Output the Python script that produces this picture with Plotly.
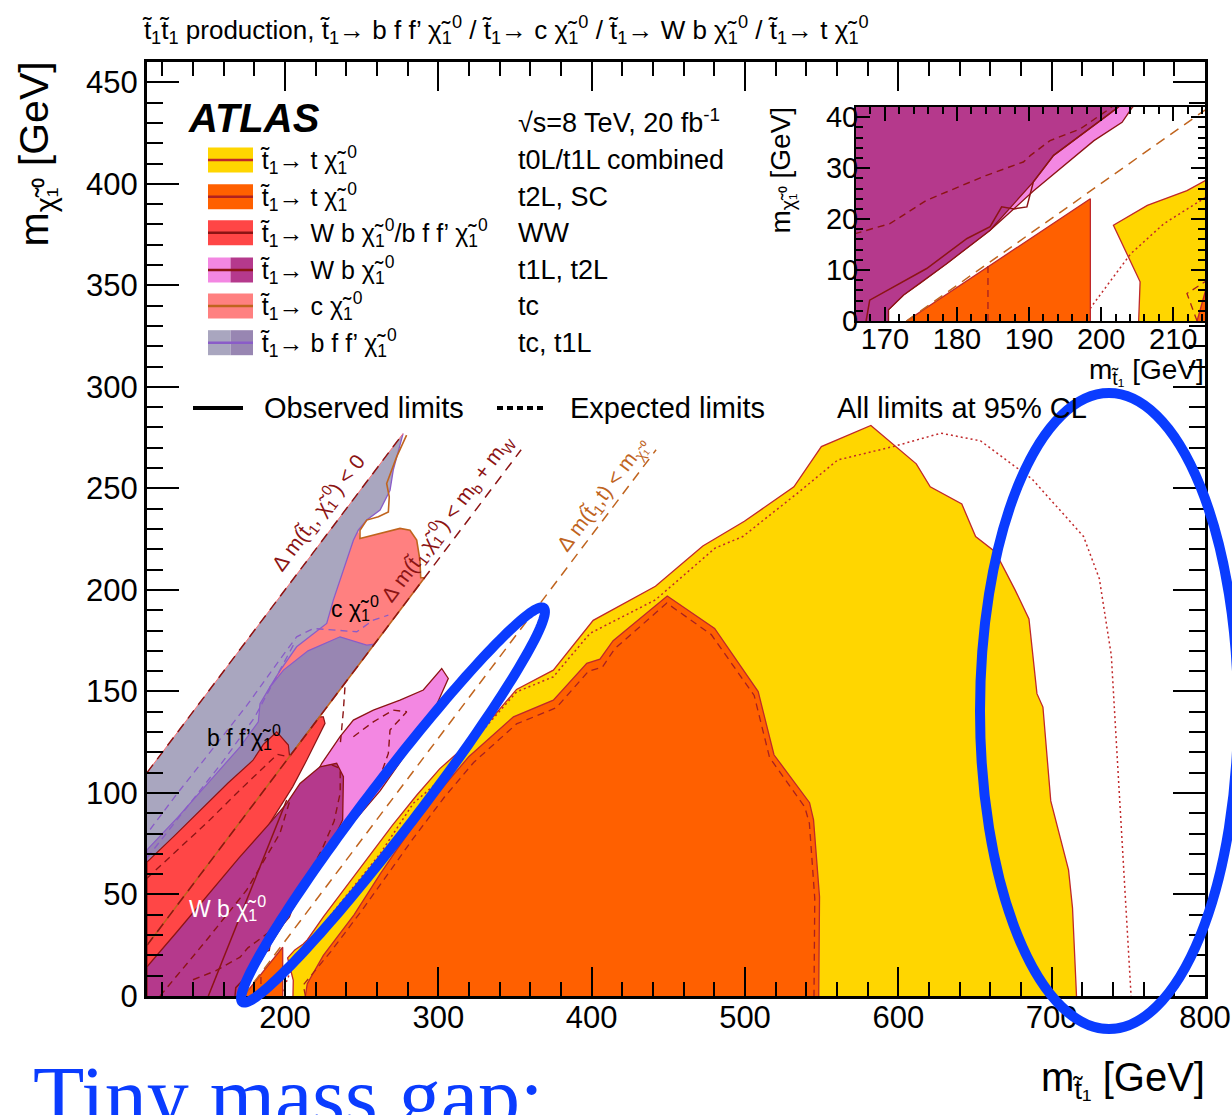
import math
import plotly.graph_objects as go

SANS = "Liberation Sans, Arial, Helvetica, sans-serif"
SERIF = "Liberation Serif, Times New Roman, serif"

# ---------------- axes ----------------
x_range = [110, 800]
y_range = [0, 460]
inset_x_range = [166, 214.4]
inset_y_range = [0, 42]
x_ticks = [200, 300, 400, 500, 600, 700, 800]
y_ticks = [0, 50, 100, 150, 200, 250, 300, 350, 400, 450]
inset_x_ticks = [170, 180, 190, 200, 210]
inset_y_ticks = [0, 10, 20, 30, 40]

# ---------------- kinematic boundaries (GeV) ----------------
dm0_x = [110, 277]          # m(stop) = m(LSP)
dm0_y = [110, 277]
dmbw_x = [110, 354]         # dm = m_b + m_W
dmbw_y = [25, 269]
dmt_x = [173, 442]          # dm = m_t
dmt_y = [0, 269]

# ---------------- tc / t1L, stop -> b f f' chi ----------------
tc_bff_x = [110, 110, 277, 273.9, 270.6, 268.5, 262, 253.3, 247.8, 244.6, 238, 231.5, 227.2, 207.6, 197, 190, 195]
tc_bff_y = [25, 110, 277, 268, 259, 249.1, 239.3, 234.4, 229.4, 224.5, 209.8, 195, 183.5, 172, 160.5, 152, 110]
t1L_bff_x = [110, 110, 130, 150, 170.7, 182.6, 183.7, 190, 199, 215, 235.9, 253.3, 258.3]
t1L_bff_y = [25, 72, 88, 105, 122.7, 135, 144, 152, 160.5, 170, 176.9, 172.8, 173.3]
bff_exp1_x = [112, 130, 150, 175, 195, 207.6, 218.5, 246.8, 257.6, 267.4]
bff_exp1_y = [82, 100, 119, 143, 164, 176.9, 181, 179.4, 185.1, 187.6]
bff_exp2_x = [110, 135, 160, 180, 195, 207]
bff_exp2_y = [68, 92, 116, 137, 158, 175]

# ---------------- tc, stop -> c chi ----------------
tc_c_x = [248.9, 262, 275, 281.5, 285.9, 288, 288.5, 291, 240, 190, 197, 207.6, 227.2, 231.5, 238, 244.6, 247.8]
tc_c_y = [225.3, 227.8, 230.3, 229.4, 224.5, 214.7, 206, 206, 155, 152, 160.5, 172, 183.5, 195, 209.8, 224.5, 229.4]
tc_c_edge_x = [279.3, 272.8, 266.3, 268, 267.4, 260.9, 253.3, 248.9, 248.9, 262, 275, 281.5, 285.9, 288, 288.5, 291, 110]
tc_c_edge_y = [276.2, 265.5, 252.4, 245.8, 238.4, 236, 234.4, 229.4, 225.3, 227.8, 230.3, 229.4, 224.5, 214.7, 206, 206, 25]

# ---------------- WW ----------------
ww_x = [110, 110, 128, 147, 163, 179, 186, 194.6, 202.2, 203, 222.5, 225, 226.1, 214.2, 205, 190, 175, 160, 145, 130]
ww_y = [0, 66, 79, 93, 105, 116, 124, 130.1, 123.6, 118, 137.5, 137.5, 134.3, 116.2, 103, 85, 65, 45, 25, 0]
ww_exp_x = [110, 130, 150, 170, 185, 195, 201]
ww_exp_y = [58, 72, 86, 101, 112, 119, 118]

# ---------------- t1L, t2L, stop -> W b chi ----------------
wb_light_x = [170.5, 170.5, 172.6, 174.9, 178.6, 184.6, 190.6, 199, 202.9, 204.3, 215, 229, 245, 262, 275, 288, 298, 306.5,
              302.2, 290.2, 275, 257.6, 244.6, 235.9, 224, 200, 175, 165]
wb_light_y = [0, 2.2, 5.1, 7.4, 11.3, 17.8, 25.5, 35.4, 39, 41.9, 55, 71, 86, 101, 115, 130, 142, 156.4,
              161.3, 150.7, 145.7, 140.8, 135.9, 127.7, 114.6, 80, 30, 0]
wb_dark_x = [110, 110, 130, 150, 170, 190, 201.1, 209.8, 222.8, 233.7, 238.1, 237.6, 229.3, 218.5, 210, 202.4, 200.8,
             193.4, 190.6, 184.6, 178.6, 174.9, 172.6, 170.5, 170.5]
wb_dark_y = [0, 14.4, 32, 50, 68, 85, 94.9, 104.7, 112.9, 114.6, 108, 86.7, 73.5, 58.7, 49, 42, 40.3,
             32.5, 27.3, 17.8, 11.3, 7.4, 5.1, 2.2, 0]
wb_obs2_x = [167.4, 167.9, 175.8, 181.4, 184.6, 186.2, 187.9, 189.7, 190.6, 193.4, 200.8, 202.4]
wb_obs2_y = [0, 4.1, 10.3, 16.2, 18.5, 22.4, 22.0, 22.4, 27.3, 32.5, 40.3, 42]
wb_sol_x = [150, 201.1]
wb_sol_y = [0, 96.5]
wb_exp1_x = [140, 155, 166, 170.7, 175.8, 181.4, 184.1, 189.2, 190.2, 192.9, 197.1, 200.8, 206, 214, 224, 232, 236, 236, 230]
wb_exp1_y = [8, 12.5, 17.2, 19.1, 23.7, 26.9, 28.6, 31.2, 32.5, 35.4, 37.7, 41.3, 47, 58, 72, 86, 100, 112, 114]
wb_exp2_x = [118.5, 127.2, 148.9, 175, 196.7, 203.3]
wb_exp2_y = [0, 7.9, 27.6, 52.2, 80.1, 96.5]
wb_exp3_x = [244.6, 257.6, 270.6, 279.4, 268.5, 267.4, 262, 250, 236, 222, 208, 204]
wb_exp3_y = [127.7, 135, 140.8, 140, 131, 119.5, 108, 94, 79, 64, 49, 44]
wb_exp4_x = [239.1, 238, 235.9]
wb_exp4_y = [152, 140, 122.8]

# ---------------- t0L/t1L combined, stop -> t chi ----------------
t01_obs_x = [205.2, 205.4, 201.7, 206.4, 211.9, 214.5, 225, 240, 255, 270, 286, 301, 325, 351, 375, 401, 441.6, 472.5,
             499.6, 531.9, 549.8, 582.1, 611.7, 620.8, 641.4, 650.4, 663.3, 676.2, 685.2, 690.4, 694.3, 699.4, 711.0,
             713.6, 716.2]
t01_obs_y = [0, 7.7, 18.8, 22.7, 25.6, 27.6, 39, 54, 69, 84, 99, 112, 128, 151, 160.5, 185, 201.8, 221.6,
             233.8, 250.8, 270.6, 281.0, 262.1, 250.8, 242.3, 226.3, 218.7, 199.9, 185.7, 148.9, 142.3, 96.1, 62.1,
             43.3, 0]
t01_exp_x = [197.3, 199.0, 204.1, 208.7, 214.2, 230, 246, 262, 283.7, 301.1, 327.2, 351.1, 375.0, 398.9, 441.6, 480.5,
             498.6, 534.8, 560.5, 596.7, 627.8, 653.6, 687.2, 720.8, 731.1, 738.9, 744.1, 751.8]
t01_exp_y = [0, 3.5, 13.2, 19.1, 24.0, 40, 55, 70, 94.9, 106.3, 129.3, 149.8, 157.2, 178.6, 195.1, 220.6,
             226.3, 248.0, 264.0, 270.6, 277.2, 273.4, 254.6, 226.3, 205.5, 167.8, 99.9, 0]

# ---------------- t2L, SC, stop -> t chi ----------------
t2_obs_x = [213.3, 214.5, 225, 245, 262, 280, 301, 320, 349, 375, 396.8, 405.4, 414, 449.3, 480.2, 508.6, 518.9,
            542.1, 544.7, 548.6, 548.1]
t2_obs_y = [0, 6.1, 20, 40, 60, 80, 101, 118, 137.5, 145.7, 163.8, 165.9, 175, 197, 181, 149.9, 118.8,
            95.2, 86.7, 48.9, 0]
t2_exp_x = [213.3, 211.9, 218, 230, 250, 266, 284, 304, 323, 351, 377, 398, 407, 415, 449, 478, 506, 516, 539, 542,
            545.5, 545]
t2_exp_y = [0, 5.4, 11, 22, 42, 59, 78, 98, 115, 134, 142, 160, 162, 171, 193.5, 178, 148, 117.5, 93, 85,
            48, 0]
t2_tri_x = [173, 198.5, 198.5]
t2_tri_y = [0, 24, 0]
t2_tri_exp_x = [184.3, 184.3]
t2_tri_exp_y = [0, 11]

# ---------------- colours ----------------
C_YELLOW = "#ffd600"
C_ORANGE = "#ff6000"
C_RED = "#ff4646"
C_PINK = "#f387e2"
C_MAGENTA = "#b5398c"
C_SALMON = "#ff8080"
C_GREY = "#a9a6bf"
C_PURPLE = "#9886b2"
C_LINE_RED = "#c0282a"
C_DARKRED = "#8c1414"
C_BROWN = "#c0641e"
C_LPURPLE = "#8a5cc8"
C_BLUE = "#0a3cff"

# ---------------- page geometry (px) ----------------
W, H = 1232, 1115
L, R, T, B = 147, 1205, 62, 996


def fx(px):
    return (px - L) / (R - L)


def fy(py):
    return (B - py) / (B - T)


fig = go.Figure()
MAIN = [("x", "y")]
BOTH = [("x", "y"), ("x2", "y2")]


def region(xs, ys, color, edge=None, width=0.0, panels=MAIN):
    for xa, ya in panels:
        fig.add_trace(go.Scatter(
            x=xs, y=ys, xaxis=xa, yaxis=ya, mode="lines", fill="toself",
            fillcolor=color, line=dict(color=edge or color, width=width),
            hoverinfo="skip", showlegend=False))


def curve(xs, ys, color, width=1.5, dash="solid", panels=MAIN):
    for xa, ya in panels:
        fig.add_trace(go.Scatter(
            x=xs, y=ys, xaxis=xa, yaxis=ya, mode="lines",
            line=dict(color=color, width=width, dash=dash),
            hoverinfo="skip", showlegend=False))


DASH = "7px,5px"
DOT = "2px,3px"

# b f f' / c chi band
region(tc_bff_x, tc_bff_y, C_GREY)
region(tc_c_x, tc_c_y, C_SALMON)
region(t1L_bff_x, t1L_bff_y, C_PURPLE, C_LPURPLE, 1.2)
curve(tc_bff_x[2:16], tc_bff_y[2:16], C_LPURPLE, 1.3)
curve(dm0_x, dm0_y, "#ff7070", 1.0)
curve(bff_exp1_x, bff_exp1_y, C_LPURPLE, 1.3, DASH)
curve(bff_exp2_x, bff_exp2_y, C_LPURPLE, 1.3, DASH)

# WW
region(ww_x, ww_y, C_RED, C_DARKRED, 1.2)
curve(ww_exp_x, ww_exp_y, C_DARKRED, 1.3, DASH)
curve(tc_c_edge_x, tc_c_edge_y, C_BROWN, 1.6)

# W b chi
region(wb_light_x, wb_light_y, C_PINK, C_DARKRED, 1.3, BOTH)
region(wb_dark_x, wb_dark_y, C_MAGENTA, C_DARKRED, 1.3, BOTH)
curve(wb_obs2_x, wb_obs2_y, C_DARKRED, 1.5, panels=BOTH)
curve(wb_sol_x, wb_sol_y, C_DARKRED, 1.5)
curve(wb_exp1_x, wb_exp1_y, C_DARKRED, 1.4, DASH, BOTH)
curve(wb_exp2_x, wb_exp2_y, C_DARKRED, 1.4, DASH)
curve(wb_exp3_x, wb_exp3_y, C_DARKRED, 1.4, DASH)
curve(wb_exp4_x, wb_exp4_y, C_DARKRED, 1.4, DASH)

# t chi (0L/1L combined and 2L)
region(t01_obs_x, t01_obs_y, C_YELLOW, C_LINE_RED, 1.3, BOTH)
curve(t01_exp_x, t01_exp_y, C_LINE_RED, 1.5, DOT, BOTH)
region(t2_obs_x, t2_obs_y, C_ORANGE, C_LINE_RED, 1.3, BOTH)
region(t2_tri_x, t2_tri_y, C_ORANGE, C_LINE_RED, 1.3, BOTH)
curve(t2_exp_x, t2_exp_y, "#a82020", 1.3, DASH, BOTH)
curve(t2_tri_exp_x, t2_tri_exp_y, "#a82020", 1.3, DASH, BOTH)

# kinematic limits
curve(dm0_x, dm0_y, C_DARKRED, 1.5, "10px,7px")
curve(dmbw_x, dmbw_y, C_DARKRED, 1.5, "10px,7px")
curve(dmt_x, dmt_y, C_BROWN, 1.5, "10px,7px", BOTH)

# ---------------- annotations ----------------
ann = []


def text(t, x, y, size, xanchor="left", yanchor="middle", color="black", angle=0, family=SANS, ref="paper"):
    if ref == "paper":
        x, y = fx(x), fy(y)
        xr, yr = "paper", "paper"
    else:
        xr, yr = "x", "y"
    ann.append(dict(text=t, x=x, y=y, xref=xr, yref=yr, xanchor=xanchor, yanchor=yanchor,
                    showarrow=False, textangle=angle,
                    font=dict(family=family, size=size, color=color)))


T1 = "t&#771;<sub>1</sub>"
CHI = "&#967;&#771;<sub>1</sub><sup>0</sup>"

text(f"{T1}{T1} production, {T1}&#8594; b f f&#8217; {CHI} / {T1}&#8594; c {CHI} / "
     f"{T1}&#8594; W b {CHI} / {T1}&#8594; t {CHI}", 140, 30, 26)

text("<b><i>ATLAS</i></b>", 186, 118, 40)
text("&#8730;s=8 TeV, 20 fb<sup>-1</sup>", 516, 121, 27)

legend_rows = [
    (f"{T1}&#8594; t {CHI}", "t0L/t1L combined", [C_YELLOW], C_LINE_RED),
    (f"{T1}&#8594; t {CHI}", "t2L, SC", [C_ORANGE], "#b02020"),
    (f"{T1}&#8594; W b {CHI}/b f f&#8217; {CHI}", "WW", [C_RED], C_DARKRED),
    (f"{T1}&#8594; W b {CHI}", "t1L, t2L", [C_PINK, C_MAGENTA], C_DARKRED),
    (f"{T1}&#8594; c {CHI}", "tc", [C_SALMON], C_BROWN),
    (f"{T1}&#8594; b f f&#8217; {CHI}", "tc, t1L", [C_GREY, C_PURPLE], C_LPURPLE),
]
row_y = [160, 196.7, 232.7, 270, 306, 342.7]

shapes = []
for (lab, ana, cols, lc), yc in zip(legend_rows, row_y):
    x0, x1 = 208, 253
    n = len(cols)
    for i, c in enumerate(cols):
        shapes.append(dict(type="rect", xref="paper", yref="paper",
                           x0=fx(x0 + (x1 - x0) * i / n), x1=fx(x0 + (x1 - x0) * (i + 1) / n),
                           y0=fy(yc + 12.5), y1=fy(yc - 12.5),
                           fillcolor=c, line=dict(width=0), layer="above"))
    shapes.append(dict(type="line", xref="paper", yref="paper", x0=fx(x0), x1=fx(x1),
                       y0=fy(yc), y1=fy(yc), line=dict(color=lc, width=2.5), layer="above"))
    text(lab, 258, yc, 25)
    text(ana, 516, yc, 27)

shapes.append(dict(type="line", xref="paper", yref="paper", x0=fx(193), x1=fx(243),
                   y0=fy(408), y1=fy(408), line=dict(color="black", width=4), layer="above"))
shapes.append(dict(type="line", xref="paper", yref="paper", x0=fx(497), x1=fx(546),
                   y0=fy(408), y1=fy(408), line=dict(color="black", width=4, dash="6px,4px"), layer="above"))
text("Observed limits", 262, 408, 29)
text("Expected limits", 568, 408, 29)
text("All limits at 95% CL", 835, 408, 29)

# kinematic-limit labels
text(f"&#8710; m({T1}, {CHI}) &lt; 0", 221.7, 238.1, 21, "center", "middle", C_DARKRED, -53, ref="data")
text(f"&#8710; m({T1},{CHI}) &lt; m<sub>b</sub> + m<sub>W</sub>", 305.5, 235.2, 21, "center", "middle",
     C_DARKRED, -53, ref="data")
text(f"&#8710; m({T1},t) &lt; m<sub>&#967;&#771;&#8321;&#8304;</sub>", 407.6, 246.7, 21, "center", "middle",
     C_BROWN, -53, ref="data")

# region labels
text(f"c {CHI}", 245.7, 191, 23, "center", "middle", "black", ref="data")
text(f"b f f&#8217;{CHI}", 173.3, 127.5, 23, "center", "middle", "black", ref="data")
text(f"W b {CHI}", 162.8, 43.3, 23, "center", "middle", "white", ref="data")

# axis titles
text("m<sub>&#967;&#771;&#8321;&#8304;</sub> [GeV]", 36, 60, 41, "center", "top", angle=-90)
text("m<sub>t&#771;&#8321;</sub> [GeV]", 1207, 1080, 40, "right", "middle")
text("m<sub>&#967;&#771;&#8321;&#8304;</sub> [GeV]", 782, 105, 28, "center", "top", angle=-90)
text("m<sub>t&#771;&#8321;</sub> [GeV]", 1206, 371, 28, "right", "middle")

# caption below the frame
text("Tiny mass gap:", 31, 1048, 84, "left", "top", C_BLUE, family=SERIF)


# highlighted areas
def ellipse_path(cx, cy, a, b, ang):
    th = math.radians(ang)
    pts = []
    for i in range(181):
        t = 2 * math.pi * i / 180
        u, v = a * math.cos(t), b * math.sin(t)
        px_ = cx + u * math.cos(th) + v * math.sin(th)
        py_ = cy - u * math.sin(th) + v * math.cos(th)
        pts.append(f"{fx(px_):.5f},{fy(py_):.5f}")
    return "M" + " L".join(pts) + " Z"


shapes.append(dict(type="path", xref="paper", yref="paper", path=ellipse_path(393, 805, 248, 25, 52.6),
                   line=dict(color=C_BLUE, width=10), layer="above"))
shapes.append(dict(type="circle", xref="paper", yref="paper",
                   x0=fx(1109 - 129), x1=fx(1109 + 129), y0=fy(711 + 318), y1=fy(711 - 318),
                   line=dict(color=C_BLUE, width=10), layer="above"))

axis_common = dict(showline=True, linecolor="black", mirror="ticks", ticks="inside", tickcolor="black",
                   showgrid=False, zeroline=False, tickmode="array", automargin=False)

fig.update_layout(
    width=W, height=H,
    margin=dict(l=L, r=W - R, t=T, b=H - B, autoexpand=False),
    paper_bgcolor="white", plot_bgcolor="white",
    showlegend=False, hovermode=False,
    font=dict(family=SANS, color="black"),
    xaxis=dict(axis_common, range=x_range, tickvals=x_ticks, linewidth=3, ticklen=29, tickwidth=2,
               tickfont=dict(size=31), ticklabelstandoff=-8,
               minor=dict(dtick=20, tick0=0, ticklen=14, tickwidth=2, ticks="inside", tickcolor="black")),
    yaxis=dict(axis_common, range=y_range, tickvals=y_ticks, linewidth=3, ticklen=32, tickwidth=2,
               tickfont=dict(size=31),
               minor=dict(dtick=10, tick0=0, ticklen=16, tickwidth=2, ticks="inside", tickcolor="black")),
    xaxis2=dict(axis_common, domain=[fx(856), 1.0], anchor="y2", range=inset_x_range, tickvals=inset_x_ticks,
                linewidth=2, ticklen=14, tickwidth=1.5, tickfont=dict(size=29), ticklabelstandoff=-9,
                minor=dict(dtick=2, tick0=0, ticklen=7, tickwidth=1.5, ticks="inside", tickcolor="black")),
    yaxis2=dict(axis_common, domain=[fy(321), fy(107)], anchor="x2", range=inset_y_range,
                tickvals=inset_y_ticks, linewidth=2, ticklen=14, tickwidth=1.5, tickfont=dict(size=29),
                ticklabelstandoff=-10,
                minor=dict(dtick=2, tick0=0, ticklen=7, tickwidth=1.5, ticks="inside", tickcolor="black")),
    annotations=ann,
    shapes=shapes,
)

fig.write_html("out.html")
